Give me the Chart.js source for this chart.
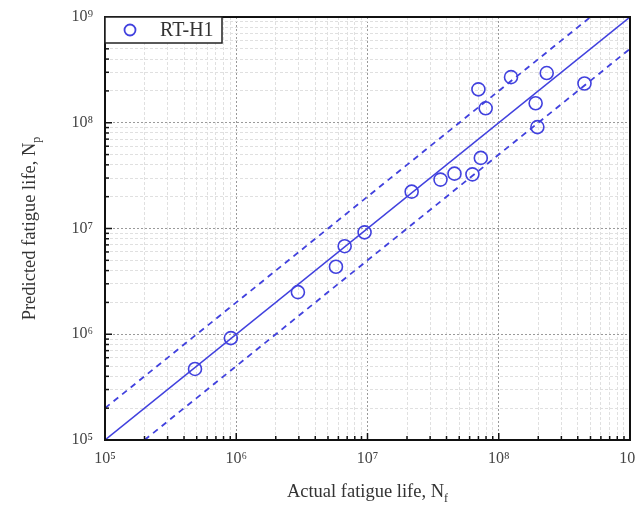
<!DOCTYPE html>
<html>
<head>
<meta charset="utf-8">
<script src="https://cdn.jsdelivr.net/npm/chart.js@4/dist/chart.umd.min.js"></script>
<style>
html,body{margin:0;padding:0;background:#ffffff;}
canvas{display:block;}
</style>
</head>
<body>
<canvas id="c" width="635" height="505"></canvas>
<script>
// ---- data ----
const seriesName = "RT-H1";
const actualLife = [4.85e5, 9.1e5, 2.95e6, 5.75e6, 6.7e6, 9.5e6, 2.17e7, 3.6e7, 4.6e7, 6.3e7, 7.3e7, 7.0e7, 7.95e7, 1.24e8, 1.91e8, 1.97e8, 2.32e8, 4.5e8];
const predictedLife = [4.7e5, 9.2e5, 2.5e6, 4.35e6, 6.8e6, 9.2e6, 2.23e7, 2.9e7, 3.3e7, 3.25e7, 4.65e7, 2.07e8, 1.37e8, 2.7e8, 1.53e8, 9.1e7, 2.95e8, 2.35e8];
const axisMin = 1e5, axisMax = 1e9;
const decades = [5, 6, 7, 8];
const mantissas = [1, 2, 3, 4, 5, 6, 7, 8, 9];
const equalLineX = [1e5, 1e9], equalLineY = [1e5, 1e9];
const upperBandX = [1e5, 5e8], upperBandY = [2e5, 1e9];
const lowerBandX = [2e5, 1e9], lowerBandY = [1e5, 5e8];
const xTitle = ["Actual fatigue life, N", "f"];
const yTitle = ["Predicted fatigue life, N", "p"];

const BLUE = '#4141de';
const SERIF = '"Liberation Serif","Times New Roman",serif';
const sup = {'0':'\u2070','1':'\u00b9','2':'\u00b2','3':'\u00b3','4':'\u2074','5':'\u2075','6':'\u2076','7':'\u2077','8':'\u2078','9':'\u2079'};
const isMajor = v => Math.abs(Math.log10(v) - Math.round(Math.log10(v))) < 1e-6;
const tickLabel = v => isMajor(v) ? '10' + String(Math.round(Math.log10(v))).split('').map(d => sup[d]).join('') : '';
const pts = (xs, ys) => xs.map((x, i) => ({x: x, y: ys[i]}));
const tickValues = [];
decades.forEach(d => mantissas.forEach(m => tickValues.push(m * Math.pow(10, d))));
tickValues.push(axisMax);

const framePlugin = {
  id: 'frame',
  beforeDraw(chart) {
    const c = chart.ctx;
    c.save(); c.fillStyle = '#ffffff'; c.fillRect(0, 0, chart.width, chart.height); c.restore();
  },
  afterDraw(chart) {
    const c = chart.ctx, a = chart.chartArea;
    const xs = chart.scales.x, ys = chart.scales.y;
    c.save();
    // inward ticks
    c.strokeStyle = '#111'; c.lineWidth = 1.5;
    xs.ticks.forEach(t => {
      const px = xs.getPixelForValue(t.value);
      const len = isMajor(t.value) ? 7 : 4;
      c.beginPath(); c.moveTo(px, a.bottom); c.lineTo(px, a.bottom - len); c.stroke();
    });
    ys.ticks.forEach(t => {
      const py = ys.getPixelForValue(t.value);
      const len = isMajor(t.value) ? 7 : 4;
      c.beginPath(); c.moveTo(a.left, py); c.lineTo(a.left + len, py); c.stroke();
    });
    // frame
    c.strokeStyle = '#111'; c.lineWidth = 2;
    c.strokeRect(a.left, a.top, a.right - a.left, a.bottom - a.top);
    // legend box
    const lx = a.left, ly = a.top, lw = 117, lh = 26;
    c.fillStyle = '#ffffff'; c.fillRect(lx, ly, lw, lh);
    c.lineWidth = 1.5; c.strokeStyle = '#222'; c.strokeRect(lx, ly, lw, lh);
    c.beginPath(); c.arc(lx + 25, ly + 13, 5.5, 0, Math.PI * 2);
    c.strokeStyle = BLUE; c.lineWidth = 1.8; c.stroke();
    c.fillStyle = '#333'; c.font = '20px ' + SERIF; c.textBaseline = 'middle'; c.textAlign = 'left';
    c.fillText(seriesName, lx + 55, ly + 14);
    // x title with subscript
    c.fillStyle = '#333'; c.textBaseline = 'alphabetic';
    c.font = '18.5px ' + SERIF;
    const w1 = c.measureText(xTitle[0]).width;
    c.font = '12px ' + SERIF;
    const w2 = c.measureText(xTitle[1]).width;
    const cx = (a.left + a.right) / 2;
    let sx = cx - (w1 + w2) / 2;
    c.font = '18.5px ' + SERIF; c.fillText(xTitle[0], sx, 497);
    c.font = '12px ' + SERIF; c.fillText(xTitle[1], sx + w1, 502);
    // y title rotated
    c.save();
    c.translate(35, (a.top + a.bottom) / 2);
    c.rotate(-Math.PI / 2);
    c.font = '18.5px ' + SERIF;
    const v1 = c.measureText(yTitle[0]).width;
    c.font = '12px ' + SERIF;
    const v2 = c.measureText(yTitle[1]).width;
    let sy = -(v1 + v2) / 2;
    c.font = '18.5px ' + SERIF; c.fillText(yTitle[0], sy, 0);
    c.font = '12px ' + SERIF; c.fillText(yTitle[1], sy + v1, 5);
    c.restore();
    c.restore();
  }
};

const gridCfg = {
  color: ctx => (ctx.tick && isMajor(ctx.tick.value)) ? '#9a9a9a' : '#e0e0e0',
  lineWidth: 1,
  drawTicks: false
};
const borderCfg = {
  display: false,
  dash: ctx => (ctx.tick && isMajor(ctx.tick.value)) ? [2, 2] : [3, 2]
};
const setTicks = s => { s.ticks = tickValues.map(v => ({value: v, major: isMajor(v)})); };

new Chart(document.getElementById('c'), {
  type: 'scatter',
  data: {
    datasets: [
      {label: 'y=x', type: 'line', data: pts(equalLineX, equalLineY), borderColor: BLUE, borderWidth: 1.5, pointRadius: 0, fill: false, order: 2},
      {label: '2x', type: 'line', data: pts(upperBandX, upperBandY), borderColor: BLUE, borderWidth: 1.8, borderDash: [6, 5], pointRadius: 0, fill: false, order: 2},
      {label: 'x/2', type: 'line', data: pts(lowerBandX, lowerBandY), borderColor: BLUE, borderWidth: 1.8, borderDash: [6, 5], pointRadius: 0, fill: false, order: 2},
      {label: seriesName, data: pts(actualLife, predictedLife), pointStyle: 'circle', pointRadius: 6.5, borderWidth: 1.6, borderColor: BLUE, backgroundColor: 'rgba(0,0,0,0)', order: 1}
    ]
  },
  options: {
    responsive: false,
    animation: false,
    layout: {autoPadding: false, padding: {top: 17, right: 5, left: 0, bottom: 0}},
    plugins: {legend: {display: false}, tooltip: {enabled: false}},
    scales: {
      x: {
        type: 'logarithmic', min: axisMin, max: axisMax,
        grid: gridCfg, border: borderCfg,
        afterBuildTicks: setTicks,
        ticks: {autoSkip: false, maxRotation: 0, padding: 9, color: '#444', font: {family: SERIF, size: 16}, callback: v => tickLabel(v)},
        afterFit: s => { s.height = 65; s.paddingLeft = 0; s.paddingRight = 0; }
      },
      y: {
        type: 'logarithmic', min: axisMin, max: axisMax,
        grid: gridCfg, border: borderCfg,
        afterBuildTicks: setTicks,
        ticks: {autoSkip: false, padding: 12, color: '#444', font: {family: SERIF, size: 16}, callback: v => tickLabel(v)},
        afterFit: s => { s.width = 105; s.paddingTop = 0; s.paddingBottom = 0; }
      }
    }
  },
  plugins: [framePlugin]
});
</script>
</body>
</html>
